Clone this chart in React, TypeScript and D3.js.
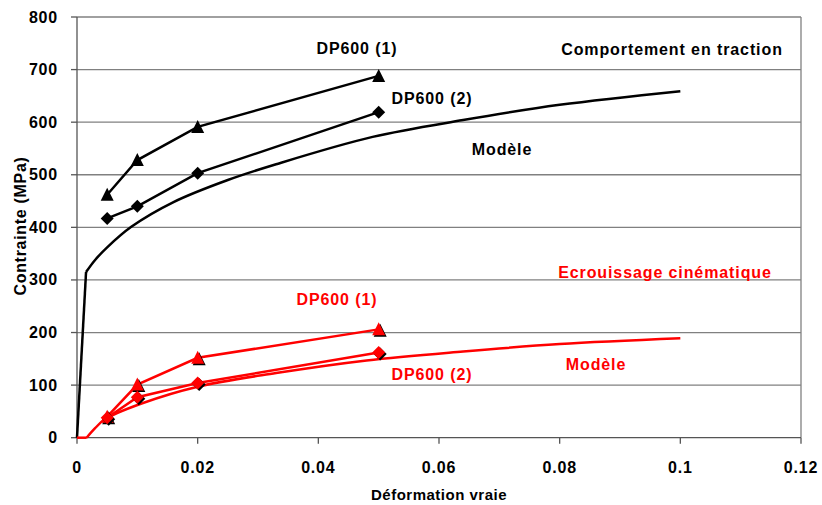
import React from "react";
import * as d3 from "d3";

const xTicks = [0, 0.02, 0.04, 0.06, 0.08, 0.1, 0.12];
const xTickLabels = ["0", "0.02", "0.04", "0.06", "0.08", "0.1", "0.12"];
const yTicks = [0, 100, 200, 300, 400, 500, 600, 700, 800];

// Comportement en traction (black)
const tracDP1: [number, number][] = [[0.005, 462], [0.01, 528], [0.02, 591], [0.05, 688]];
const tracDP2: [number, number][] = [[0.005, 417], [0.01, 440], [0.02, 503], [0.05, 619]];
// elastic segment then hardening curve
const tracElastic: [number, number][] = [[0, 0], [0.0015, 315]];
const tracModel: [number, number][] = [
  [0.0015, 315], [0.003, 338], [0.005, 362], [0.009, 401], [0.016, 448],
  [0.025, 490], [0.033, 520], [0.049, 572], [0.064, 604], [0.08, 633], [0.1, 659],
];

// Ecrouissage cinématique (red)
const ecrDP1: [number, number][] = [[0.005, 40], [0.01, 101], [0.02, 152], [0.05, 206]];
const ecrDP2: [number, number][] = [[0.005, 38], [0.01, 77], [0.02, 104], [0.05, 162]];
const ecrElastic: [number, number][] = [[0, 0], [0.0016, 0]];
const ecrModel: [number, number][] = [
  [0.0016, 0], [0.003, 18], [0.0046, 35], [0.0107, 65], [0.02, 97],
  [0.033, 123], [0.048, 147], [0.064, 164], [0.08, 178], [0.1, 189],
];

const W = 822, H = 505;
const x = d3.scaleLinear().domain([0, 0.12]).range([77, 801]);
const y = d3.scaleLinear().domain([0, 800]).range([437.7, 17]);

const lin = d3.line<[number, number]>().x(d => x(d[0])).y(d => y(d[1]));
const smooth = d3.line<[number, number]>().x(d => x(d[0])).y(d => y(d[1])).curve(d3.curveCatmullRom.alpha(0.5));

const tri = "M0,-7L6.5,6L-6.5,6Z";
const dia = "M0,-6.5L6.5,0L0,6.5L-6.5,0Z";

const font = "'Liberation Sans', Arial, sans-serif";

function Markers({ data, shape, color, shadow }: { data: [number, number][]; shape: string; color: string; shadow?: boolean }) {
  return (
    <g>
      {data.map((d, i) => (
        <g key={i} transform={`translate(${x(d[0])},${y(d[1])})`}>
          {shadow && <path d={shape} fill="#000" transform="translate(1.5,1.5)" />}
          <path d={shape} fill={color} />
        </g>
      ))}
    </g>
  );
}

function Label({ tx, ty, text, color }: { tx: number; ty: number; text: string; color: string }) {
  return (
    <text x={tx} y={ty} fill={color} fontFamily={font} fontWeight="bold" fontSize={16}
      letterSpacing={0.9} textAnchor="middle" dominantBaseline="central">{text}</text>
  );
}

export default function App() {
  const red = "#ff0000";
  return (
    <svg width={W} height={H} style={{ position: "absolute", left: 0, top: 0, background: "#fff" }}>
      <rect width={W} height={H} fill="#fff" />
      {/* gridlines */}
      {yTicks.filter(t => t > 0).map(t => (
        <line key={t} x1={x(0)} x2={x(0.12)} y1={y(t)} y2={y(t)} stroke="#808080" strokeWidth={1.3} />
      ))}
      {/* right border */}
      <line x1={x(0.12)} x2={x(0.12)} y1={y(800)} y2={y(0)} stroke="#808080" strokeWidth={1.3} />
      {/* axes */}
      <line x1={x(0)} x2={x(0)} y1={y(800)} y2={y(0)} stroke="#555" strokeWidth={1.3} />
      <line x1={x(0)} x2={x(0.12)} y1={y(0)} y2={y(0)} stroke="#555" strokeWidth={1.3} />
      {yTicks.map(t => (
        <g key={t}>
          <line x1={x(0) - 6} x2={x(0)} y1={y(t)} y2={y(t)} stroke="#555" strokeWidth={1.3} />
          <text x={58} y={y(t)} textAnchor="end" dominantBaseline="central" fontFamily={font}
            fontWeight="bold" fontSize={16} letterSpacing={0.8}>{t}</text>
        </g>
      ))}
      {xTicks.map((t, i) => (
        <g key={t}>
          <line x1={x(t)} x2={x(t)} y1={y(0)} y2={y(0) + 6} stroke="#555" strokeWidth={1.3} />
          <text x={x(t)} y={467} textAnchor="middle" dominantBaseline="central" fontFamily={font}
            fontWeight="bold" fontSize={16} letterSpacing={0.8}>{xTickLabels[i]}</text>
        </g>
      ))}
      {/* axis titles */}
      <text x={439} y={494} textAnchor="middle" dominantBaseline="central" fontFamily={font}
        fontWeight="bold" fontSize={15} letterSpacing={0.5}>Déformation vraie</text>
      <text transform="translate(20,226) rotate(-90)" textAnchor="middle" dominantBaseline="central"
        fontFamily={font} fontWeight="bold" fontSize={16} letterSpacing={0.7}>Contrainte (MPa)</text>

      {/* black series */}
      <path d={lin(tracElastic) || ""} fill="none" stroke="#000" strokeWidth={2.5} />
      <path d={smooth(tracModel) || ""} fill="none" stroke="#000" strokeWidth={2.5} />
      <path d={lin(tracDP1) || ""} fill="none" stroke="#000" strokeWidth={2.5} />
      <path d={lin(tracDP2) || ""} fill="none" stroke="#000" strokeWidth={2.5} />
      <Markers data={tracDP1} shape={tri} color="#000" />
      <Markers data={tracDP2} shape={dia} color="#000" />

      {/* red series */}
      <path d={lin(ecrElastic) || ""} fill="none" stroke={red} strokeWidth={2.5} />
      <path d={smooth(ecrModel) || ""} fill="none" stroke={red} strokeWidth={2.5} />
      <path d={lin(ecrDP1) || ""} fill="none" stroke={red} strokeWidth={2.5} />
      <path d={lin(ecrDP2) || ""} fill="none" stroke={red} strokeWidth={2.5} />
      <Markers data={ecrDP1} shape={tri} color={red} shadow />
      <Markers data={ecrDP2} shape={dia} color={red} shadow />

      {/* annotations */}
      <Label tx={357} ty={48} text="DP600 (1)" color="#000" />
      <Label tx={672} ty={49} text="Comportement en traction" color="#000" />
      <Label tx={432} ty={98} text="DP600 (2)" color="#000" />
      <Label tx={502} ty={149} text="Modèle" color="#000" />
      <Label tx={665} ty={272} text="Ecrouissage cinématique" color={red} />
      <Label tx={337} ty={299} text="DP600 (1)" color={red} />
      <Label tx={432} ty={374} text="DP600 (2)" color={red} />
      <Label tx={596} ty={364} text="Modèle" color={red} />
    </svg>
  );
}
